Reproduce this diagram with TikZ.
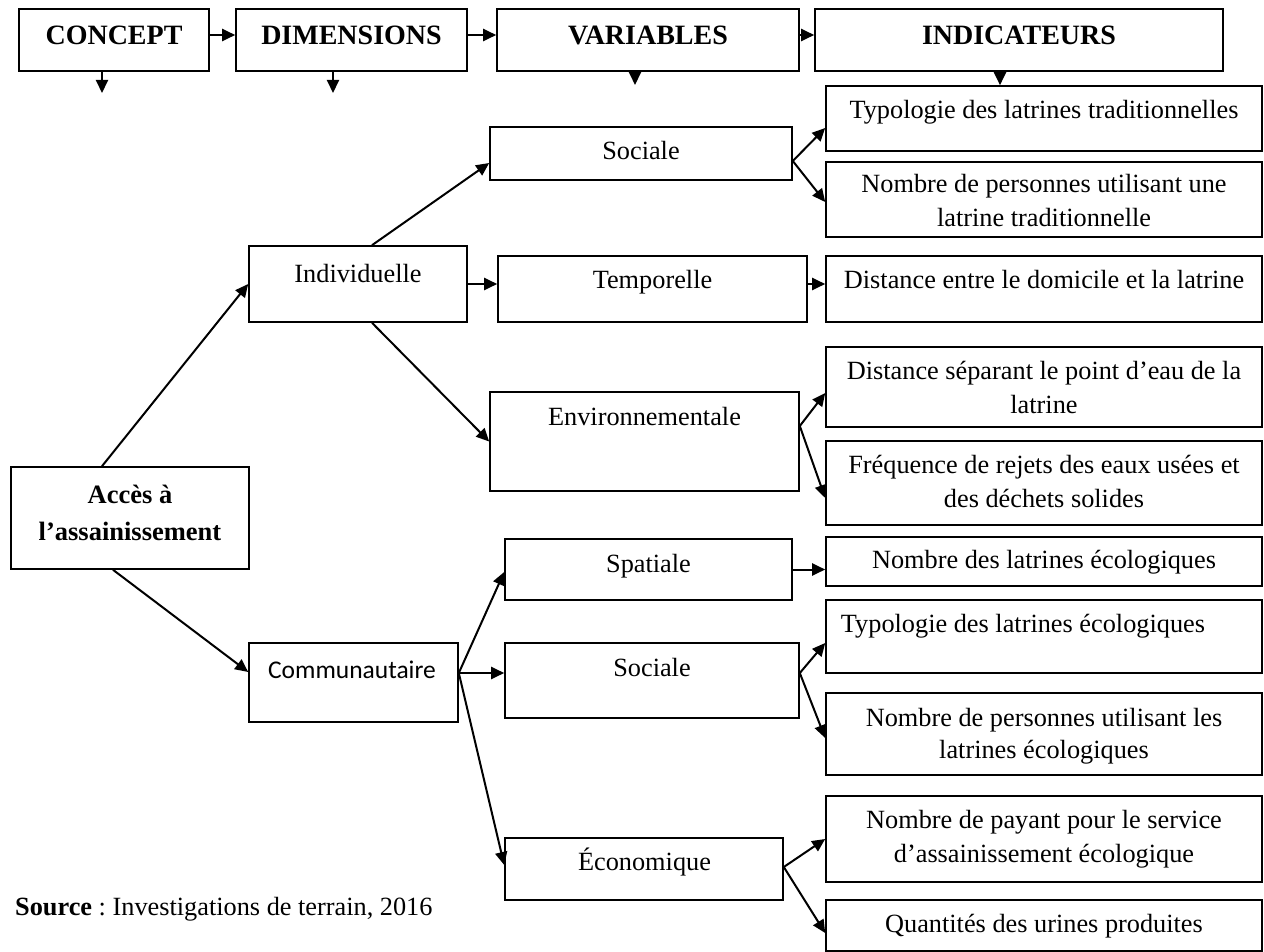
\documentclass[tikz,border=0pt]{standalone}
\usepackage{fontspec}
\setmainfont{Liberation Serif}
\newfontfamily\calibrifont{Carlito}
\usetikzlibrary{arrows.meta}
\frenchspacing
\begin{document}
\begin{tikzpicture}[x=1pt,y=-1pt,
  box/.style={draw, line width=1.6pt, inner sep=0pt},
  txt/.style={inner sep=0pt, anchor=base, font=\fontsize{26.3}{32}\selectfont},
  hdr/.style={inner sep=0pt, anchor=base, font=\fontsize{28}{32}\selectfont\bfseries},
  arr/.style={line width=2pt, -{Triangle[length=13pt,width=12pt]}}]
\fill[white] (0,0) rectangle (1264,952);
\useasboundingbox (0,0) rectangle (1264,952);

% header row
\node[box, minimum width=190pt, minimum height=62pt] (concept) at (114,40) {};
\node[box, minimum width=231pt, minimum height=62pt] (dims) at (351.5,40) {};
\node[box, minimum width=302pt, minimum height=62pt] (vars) at (648,40) {};
\node[box, minimum width=408pt, minimum height=62pt] (indic) at (1019,40) {};
\node[hdr] (tconcept) at (114,45) {CONCEPT};
\node[hdr] (tdims) at (351.5,45) {DIMENSIONS};
\node[hdr] (tvars) at (648,45) {VARIABLES};
\node[hdr] (tindic) at (1019,45) {INDICATEURS};

% concept
\node[box, minimum width=238pt, minimum height=102pt] (acces) at (130,518) {};
\node[txt, font=\fontsize{26.5}{32}\selectfont\bfseries] (tacces1) at (130,503) {Accès à};
\node[txt, font=\fontsize{26.5}{32}\selectfont\bfseries] (tacces2) at (130,540) {l’assainissement};

% dimensions
\node[box, minimum width=218pt, minimum height=76pt] (indiv) at (358,284) {};
\node[txt] (tindiv) at (358,282) {Individuelle};
\node[box, minimum width=209pt, minimum height=79pt] (comm) at (353.5,682.5) {};
\node[txt, font=\fontsize{25.5}{32}\calibrifont] (tcomm) at (352,678) {Communautaire};

% variables
\node[box, minimum width=302pt, minimum height=53pt] (soc1) at (641,153.5) {};
\node[txt] (tsoc1) at (641,160) {Sociale};
\node[box, minimum width=309pt, minimum height=66pt] (temp) at (652.5,289) {};
\node[txt] (ttemp) at (652.5,288) {Temporelle};
\node[box, minimum width=309pt, minimum height=99pt] (env) at (644.5,441.5) {};
\node[txt] (tenv) at (644.5,425) {Environnementale};
\node[box, minimum width=287pt, minimum height=61pt] (spat) at (648.5,569.5) {};
\node[txt] (tspat) at (648.5,572) {Spatiale};
\node[box, minimum width=294pt, minimum height=75pt] (soc2) at (652,680.5) {};
\node[txt] (tsoc2) at (652,676) {Sociale};
\node[box, minimum width=278pt, minimum height=62pt] (eco) at (644,869) {};
\node[txt] (teco) at (644.5,870) {Économique};

% indicateurs
\node[box, minimum width=436pt, minimum height=65pt] (i1) at (1044,118.5) {};
\node[txt] (ti1) at (1044,119) {Typologie des latrines traditionnelles};
\node[box, minimum width=436pt, minimum height=75pt] (i2) at (1044,199.5) {};
\node[txt] (ti2a) at (1044,193) {Nombre de personnes utilisant une};
\node[txt] (ti2b) at (1044,227) {latrine traditionnelle};
\node[box, minimum width=436pt, minimum height=66pt] (i3) at (1044,289) {};
\node[txt] (ti3) at (1044,288) {Distance entre le domicile et la latrine};
\node[box, minimum width=436pt, minimum height=80pt] (i4) at (1044,387) {};
\node[txt] (ti4a) at (1044,379) {Distance séparant le point d’eau de la};
\node[txt] (ti4b) at (1044,413) {latrine};
\node[box, minimum width=436pt, minimum height=84pt] (i5) at (1044,483) {};
\node[txt] (ti5a) at (1044,473) {Fréquence de rejets des eaux usées et};
\node[txt] (ti5b) at (1044,507) {des déchets solides};
\node[box, minimum width=436pt, minimum height=49pt] (i6) at (1044,561.5) {};
\node[txt] (ti6) at (1044,568) {Nombre des latrines écologiques};
\node[box, minimum width=436pt, minimum height=73pt] (i7) at (1044,636.5) {};
\node[txt] (ti7) at (1023,632) {Typologie des latrines écologiques};
\node[box, minimum width=436pt, minimum height=82pt] (i8) at (1044,734) {};
\node[txt] (ti8a) at (1044,726) {Nombre de personnes utilisant les};
\node[txt] (ti8b) at (1044,758) {latrines écologiques};
\node[box, minimum width=436pt, minimum height=86pt] (i9) at (1044,839) {};
\node[txt] (ti9a) at (1044,828) {Nombre de payant pour le service};
\node[txt] (ti9b) at (1044,862) {d’assainissement écologique};
\node[box, minimum width=436pt, minimum height=51pt] (i10) at (1044,925.5) {};
\node[txt] (ti10) at (1044,932) {Quantités des urines produites};

% source
\node[txt, anchor=base west] (src) at (15,915) {\textbf{Source} : Investigations de terrain, 2016};

% header connectors
\draw[arr] ([yshift=5pt]concept.east) -- ([yshift=5pt]dims.west);
\draw[arr] ([yshift=5pt]dims.east) -- ([yshift=5pt]vars.west);
\draw[arr] ([yshift=5pt]vars.east) -- ([yshift=5pt]indic.west);
\coordinate (dc) at (102,93);
\coordinate (dd) at (333,93);
\coordinate (dv) at (635,85);
\draw[arr] ([xshift=-12pt]concept.south) -- (dc);
\draw[arr] ([xshift=-18.5pt]dims.south) -- (dd);
\draw[arr] ([xshift=-13pt]vars.south) -- (dv);
\draw[arr] ([xshift=-19pt]indic.south) -- ([xshift=-44pt]i1.north);

% tree connectors
\draw[arr] ([xshift=-28pt]acces.north) -- (indiv.west);
\draw[arr] ([xshift=-17pt]acces.south) -- ([yshift=10.5pt]comm.west);
\draw[arr] ([xshift=14pt]indiv.north) -- ([yshift=-9.5pt]soc1.west);
\draw[arr] (indiv.east) -- (indiv.east -| temp.west);
\draw[arr] ([xshift=14pt]indiv.south) -- (env.west);
\draw[arr] ([yshift=-7.5pt]soc1.east) -- ([yshift=-9.5pt]i1.west);
\draw[arr] ([yshift=-7.5pt]soc1.east) -- ([yshift=-2.5pt]i2.west);
\draw[arr] ([yshift=5pt]temp.east) -- ([yshift=5pt]i3.west);
\draw[arr] ([yshift=15.5pt]env.east) -- ([yshift=-6pt]i4.west);
\draw[arr] ([yshift=15.5pt]env.east) -- ([yshift=-15pt]i5.west);
\draw[arr] ([yshift=9.5pt]comm.east) -- ([yshift=-2.5pt]spat.west);
\draw[arr] ([yshift=9.5pt]comm.east) -- ([yshift=7.5pt]soc2.west);
\draw[arr] ([yshift=9.5pt]comm.east) -- ([yshift=4pt]eco.west);
\draw[arr] (spat.east) -- (spat.east -| i6.west);
\draw[arr] ([yshift=7.5pt]soc2.east) -- ([yshift=-6.5pt]i7.west);
\draw[arr] ([yshift=7.5pt]soc2.east) -- ([yshift=-4pt]i8.west);
\draw[arr] ([yshift=2pt]eco.east) -- (i9.west);
\draw[arr] ([yshift=2pt]eco.east) -- ([yshift=-7.5pt]i10.west);
\end{tikzpicture}
\end{document}
